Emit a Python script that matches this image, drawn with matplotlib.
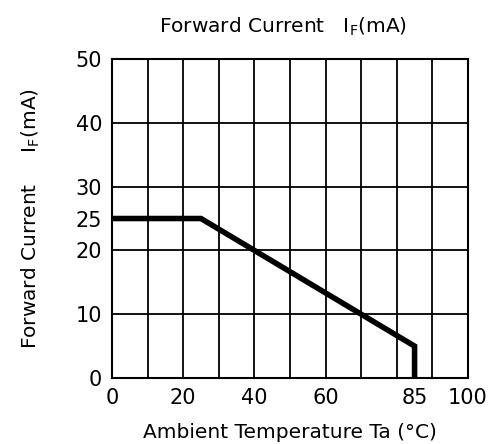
import matplotlib.pyplot as plt

plt.rcParams['font.family'] = ['DejaVu Sans']
plt.rcParams['mathtext.fontset'] = 'dejavusans'

# derating curve: forward current vs ambient temperature
temp = [0, 25, 85, 85]
current = [25, 25, 5, 0]

xticks = [0, 20, 40, 60, 85, 100]
yticks = [0, 10, 20, 25, 30, 40, 50]
xgrid = [10, 20, 30, 40, 50, 60, 70, 80, 90]
ygrid = [10, 20, 30, 40]

fig = plt.figure(figsize=(4.96, 4.44), dpi=100)
ax = fig.add_axes([0.2258, 0.1486, 0.7177, 0.7185])

for g in xgrid:
    ax.axvline(g, color='black', lw=1.3)
for g in ygrid:
    ax.axhline(g, color='black', lw=1.3)

ax.plot(temp, current, color='black', lw=4, solid_joinstyle='miter')

ax.set_xlim(0, 100)
ax.set_ylim(0, 50)
ax.set_xticks(xticks)
ax.set_yticks(yticks)
ax.tick_params(length=0, labelsize=15, pad=7)
for s in ax.spines.values():
    s.set_linewidth(1.5)

ax.set_xlabel('Ambient Temperature Ta (°C)', fontsize=14.5, labelpad=11)
ax.set_ylabel(r'Forward Current     I$_\mathregular{F}$(mA)', fontsize=14.5, labelpad=24)
ax.set_title(r'Forward Current   I$_\mathregular{F}$(mA)', fontsize=14.5, pad=19, x=0.48)

plt.savefig('out.png', dpi=100)
